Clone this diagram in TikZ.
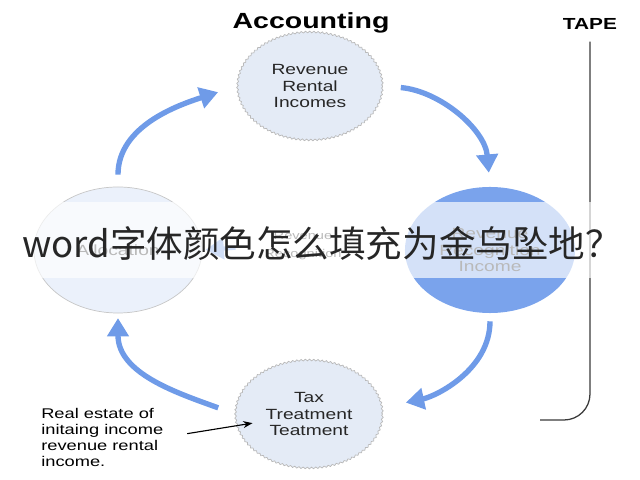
\documentclass[tikz,border=0pt]{standalone}
\usepackage{fontspec}
\setmainfont{Liberation Sans}
\newfontfamily\diagfont[FakeStretch=1.3]{Liberation Sans}
\newfontfamily\cjkfont{Noto Sans CJK SC}
\usetikzlibrary{arrows.meta,shapes.geometric,decorations.pathmorphing}

\definecolor{flowblue}{HTML}{6F9BE8}
\definecolor{cyclefill}{HTML}{E4EBF6}
\definecolor{allocfill}{HTML}{EBF1FB}
\definecolor{recogblue}{HTML}{7AA3EC}
\definecolor{tapegray}{HTML}{3A3A3A}

\begin{document}
\begin{tikzpicture}[x=0.025cm, y=0.025cm, >=Stealth,
    every node/.style={font=\diagfont},
    stage/.style={ellipse, inner sep=0pt, align=center, text=black!85,
        font=\diagfont\fontsize{10.5}{11.8}\selectfont},
    jagged/.style={draw=gray!55, line width=0.5pt, decorate,
        decoration={zigzag, segment length=3pt, amplitude=0.6pt}},
    flow/.style={draw=flowblue, line width=3.8pt,
        -{Triangle[width=15pt,length=13pt]}}]

    % Moldura
    \useasboundingbox (0,0) rectangle (640,480);

    % Titulos
    \node[font=\diagfont\bfseries\fontsize{15.6}{18}\selectfont] (title) at (311,457) {Accounting};
    \node[font=\diagfont\bfseries\fontsize{11.4}{13}\selectfont] (tape) at (590,456) {TAPE};

    % Etapas do ciclo
    \node[stage, jagged, fill=cyclefill, minimum width=3.625cm, minimum height=2.7cm]
        (rental) at (310,394) {Revenue\\Rental\\Incomes};
    \node[stage, draw=gray!45, line width=0.5pt, fill=allocfill, minimum width=4.2cm, minimum height=3.15cm]
        (alloc) at (118,230) {Allocation};
    \node[stage, fill=recogblue, minimum width=4.25cm, minimum height=3.15cm]
        (recog) at (490,230) {Revenue\\Recognition\\Income};
    \node[stage, jagged, fill=cyclefill, minimum width=3.675cm, minimum height=2.7cm]
        (tax) at (309,66) {Tax\\Treatment\\Teatment};
    \node[align=center, text=black!85, font=\diagfont\fontsize{8}{12.5}\selectfont]
        (mid) at (303,234) {Revenue\\Recognition};

    % Setas do ciclo
    \draw[flow, shorten <=0.3cm, shorten >=0.5cm] (alloc.north) to[out=90, in=198] (rental.west);
    \draw[flow, shorten <=0.45cm, shorten >=0.35cm] (rental.east) to[out=-5, in=95] (recog.north);
    \draw[flow, shorten <=0.2cm, shorten >=0.6cm] (recog.south) to[out=-90, in=12] (tax.5);
    \draw[flow, shorten <=0.45cm, shorten >=0.12cm] (tax.west) to[out=160, in=-90] (alloc.south);
    \draw[flow, line width=3pt, shorten <=0.6cm, shorten >=0.08cm] (mid.west) -- (alloc.east);

    % Nota
    \node[anchor=north west, align=left, inner sep=0pt, font=\diagfont\fontsize{10}{11.4}\selectfont]
        (note) at (41,72) {Real estate of\\initaing income\\revenue rental\\income.};
    \draw[->, line width=0.8pt, shorten <=0.6cm, shorten >=1.43cm] (note.east) -- (tax.center);

    % Linha da fita
    \coordinate (tapeend) at (540,60);
    \draw[tapegray, line width=0.9pt, rounded corners=0.65cm, shorten <=0.18cm] (tape.south) |- (tapeend);

    % Faixa por cima
    \fill[white, opacity=0.68] (0,202) rectangle (640,278);
    \node[anchor=west, inner sep=0pt, text=black!85, font=\cjkfont\fontsize{26}{30}\selectfont]
        (caption) at (22,237) {word字体颜色怎么填充为金乌坠地？};

\end{tikzpicture}
\end{document}
